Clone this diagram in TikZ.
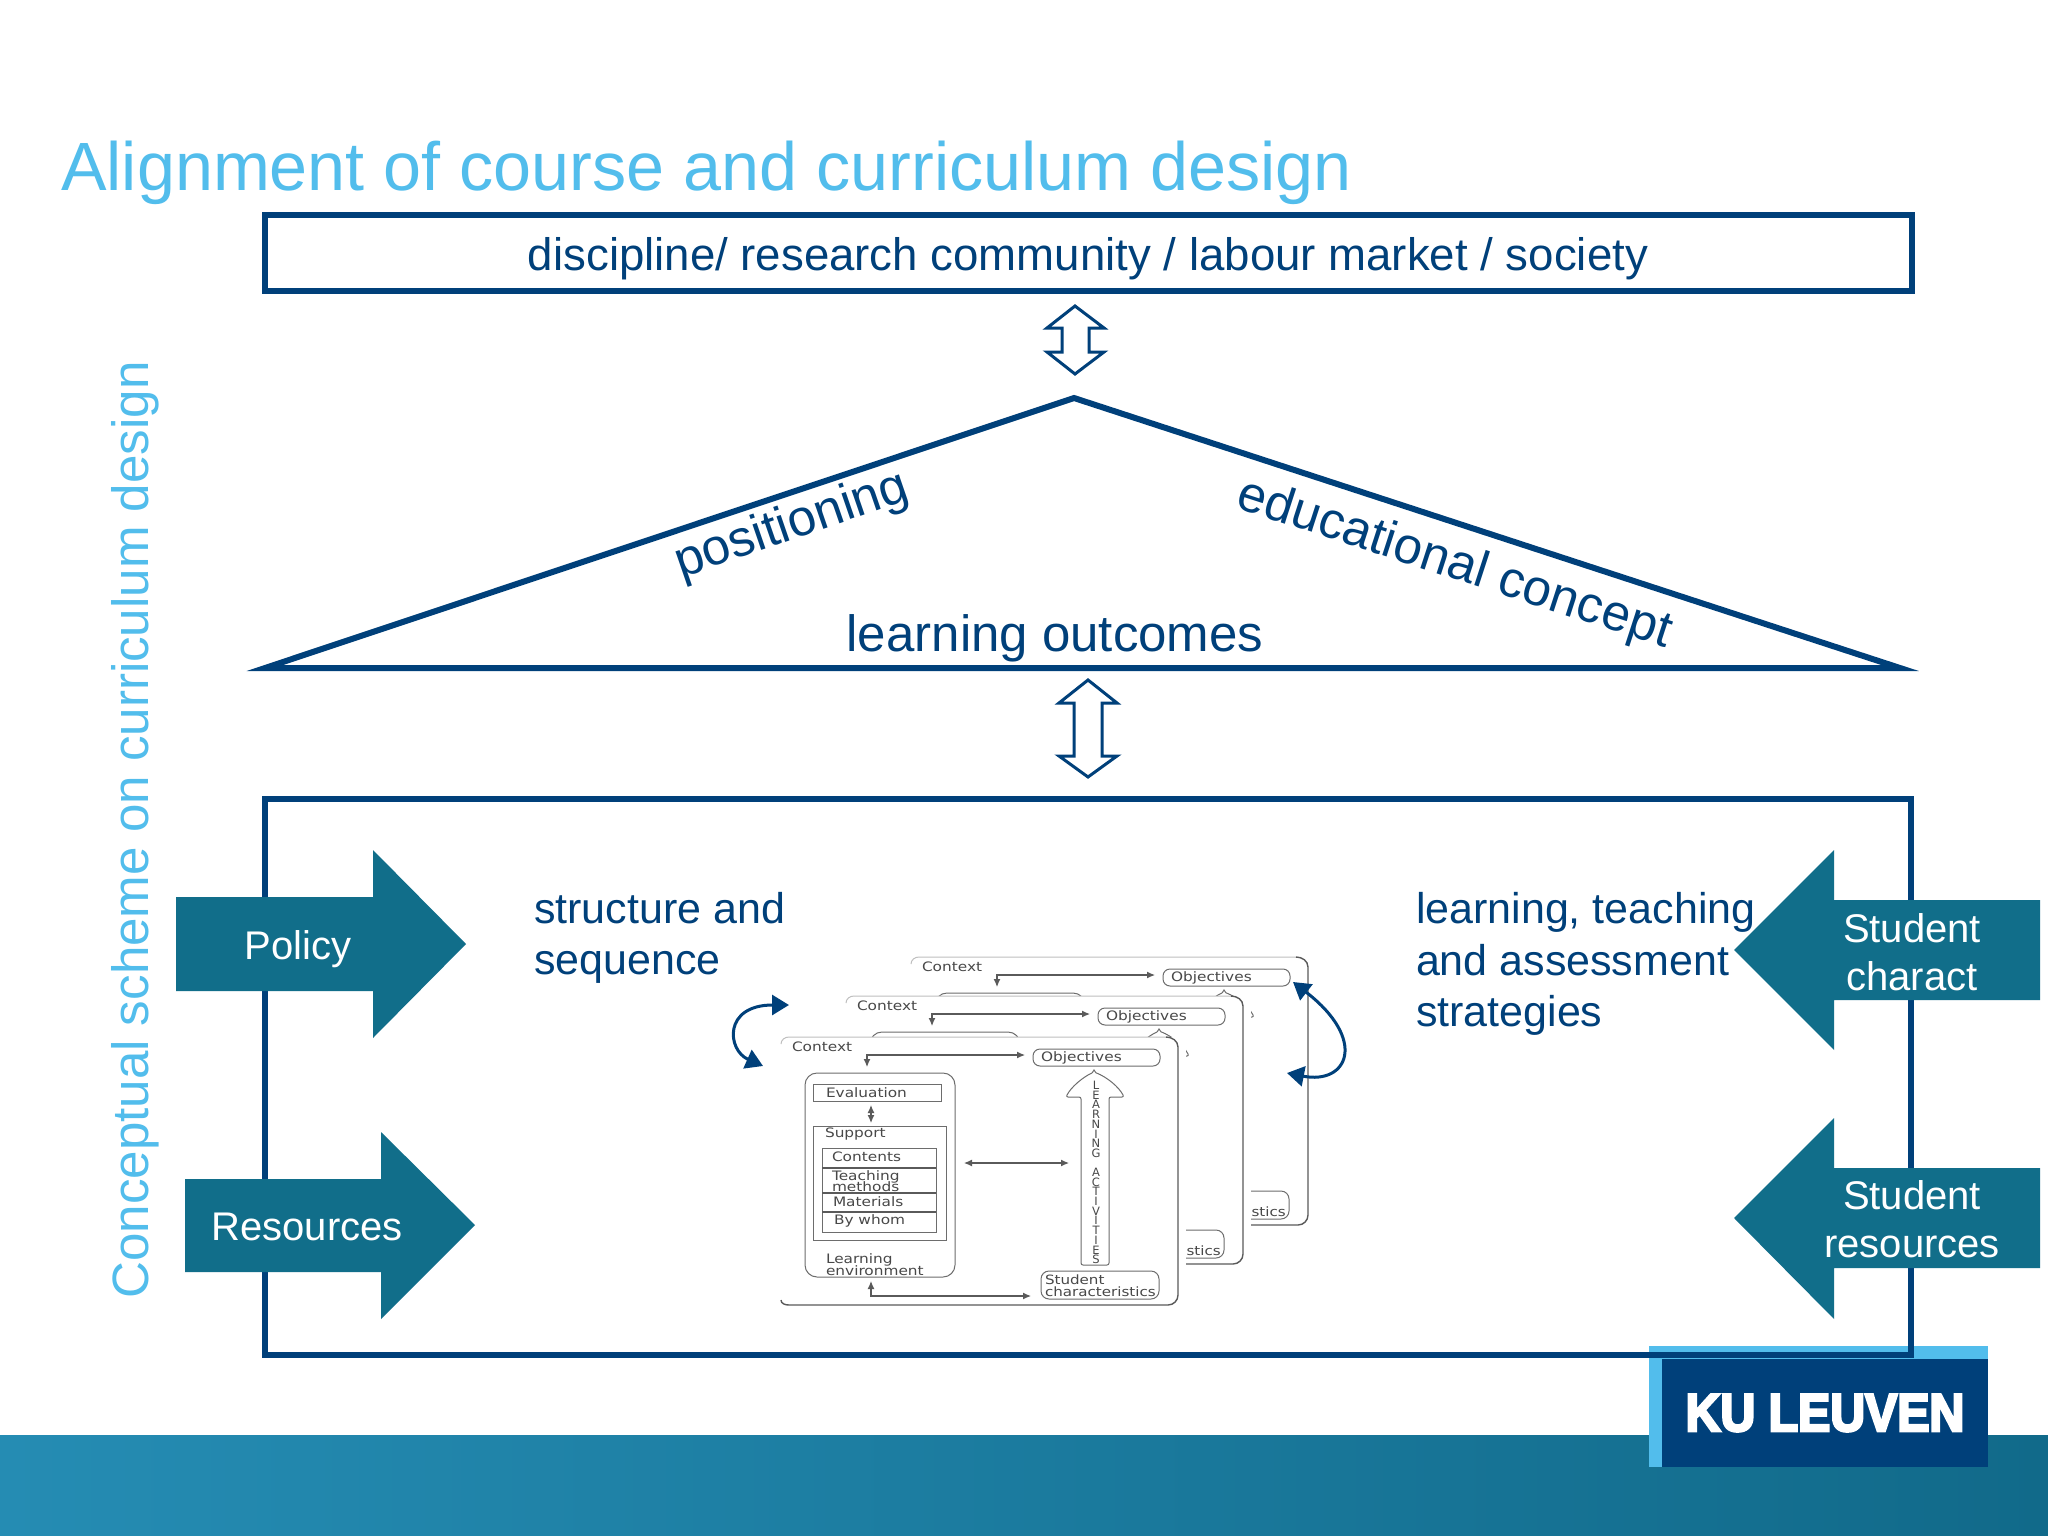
\documentclass[tikz,border=0pt]{standalone}
\usepackage{fontspec}
\setmainfont{Liberation Sans}
\newfontfamily\cardfont{DejaVu Sans}
\newfontfamily\logofont{Liberation Sans Bold}[FakeBold=5]
\newcommand{\tightlines}{\lineskiplimit=-50pt\relax}
\usetikzlibrary{arrows.meta}
\definecolor{kulight}{HTML}{52BDEC}
\definecolor{kudark}{HTML}{00407A}
\definecolor{kuteal}{HTML}{116E8A}
\definecolor{bandleft}{HTML}{258CB3}
\definecolor{bandright}{HTML}{116A8A}
\definecolor{cardink}{HTML}{484848}
\tikzset{
  frame/.style={draw=kudark,line width=6pt,miter limit=10},
  body/.style={text=kudark,font=\fontsize{43}{51.5}\selectfont,inner sep=0pt,outer sep=0pt},
  roof/.style={body,font=\fontsize{51}{51}\selectfont},
  updown/.style={draw=kudark,line width=3pt,fill=white},
  flow/.style={fill=kuteal},
  flowtext/.style={text=white,font=\fontsize{40}{48}\selectfont,align=center,inner sep=0pt},
  loop/.style={draw=kudark,line width=3pt,{Triangle[length=17pt,width=20pt]}-{Triangle[length=17pt,width=20pt]}},
  ctext/.style={text=cardink,font=\cardfont\fontsize{13}{13}\selectfont\tightlines,xscale=1.18,inner sep=0pt,outer sep=0pt,anchor=west,align=left},
  cbox/.style={draw=cardink!80,line width=1pt,inner sep=0pt,outer sep=0pt,anchor=north west},
  cline/.style={draw=cardink!90,line width=1.2pt},
  ctip/.style={cline,{Latex[length=8pt,width=7pt]}-{Latex[length=8pt,width=7pt]}},
  card/.pic={
    \fill[white] (0,0) rectangle (405,268);
    % outline, top edge fades out
    \draw[cardink!35,line width=1pt] (0,7) to[out=90,in=180] (8,0) -- (385,0);
    \draw[cardink!90,line width=1.4pt] (385,0) to[out=0,in=90] (397,10) -- (397,258) to[out=270,in=0] (387,268) -- (8,268) to[out=180,in=270] (0,263);
    % left column
    \node[cbox,rounded corners=12pt,minimum width=150pt,minimum height=204pt] (-env) at (24,36) {};
    \node[cbox,minimum width=128pt,minimum height=17pt] (-eval) at (32,47) {};
    \node[cbox,minimum width=133pt,minimum height=114pt] (-supp) at (32,89) {};
    \node[cbox,minimum width=114pt,minimum height=84pt] (-stack) at (41,111) {};
    \draw[cline] (41,131) -- (155,131) (41,156) -- (155,156) (41,175) -- (155,175);
    \node[ctext] (-tctx) at (11,10) {Context};
    \node[ctext] (-teval) at (45,56) {Evaluation};
    \node[ctext] (-tsupp) at (44,97) {Support};
    \node[ctext] (-tcont) at (51,120) {Contents};
    \node[ctext,font=\cardfont\fontsize{13}{10.5}\selectfont\tightlines] (-tteach) at (51,144) {Teaching\\methods};
    \node[ctext] (-tmat) at (52,165) {Materials};
    \node[ctext] (-tby) at (53,184) {By whom};
    \node[ctext,font=\cardfont\fontsize{13}{12}\selectfont\tightlines] (-tenv) at (45,228) {Learning\\environment};
    % right column
    \node[cbox,rounded corners=7pt,minimum width=127pt,minimum height=17pt] (-obj) at (252,12) {};
    \node[ctext] (-tobj) at (260,21) {Objectives};
    \node[cbox,rounded corners=8pt,minimum width=118pt,minimum height=28pt] (-stud) at (260,234) {};
    \node[ctext,font=\cardfont\fontsize{12.8}{12}\selectfont\tightlines] (-tstud) at (264,249) {Student\\characteristics};
    \draw[cardink!80,line width=1pt,fill=white,rounded corners=2pt] (313,35) .. controls (326,40) and (338,50) .. (343,60) -- (328,60) -- (328,228) -- (300,228) -- (300,60) -- (285,60) .. controls (290,50) and (302,40) .. (313,35) -- cycle;
    \node[text=cardink,font=\cardfont\fontsize{11.5}{9.7}\selectfont\tightlines,align=center,inner sep=0pt,anchor=center] (-la) at (315,135.5) {L\\E\\A\\R\\N\\I\\N\\G\\[9.3pt]A\\C\\T\\I\\V\\I\\T\\I\\E\\S};
    % connectors
    \coordinate (-a1) at (86,30);
    \coordinate (-a2) at (244,18);
    \coordinate (-a3) at (90,244);
    \coordinate (-a4) at (250,259);
    \coordinate (-a5) at (183,126);
    \coordinate (-a6) at (288,126);
    \coordinate (-a7) at (90,68);
    \coordinate (-a8) at (90,86);
    \draw[ctip] (-a1) |- (-a2);
    \draw[ctip] (-a3) |- (-a4);
    \draw[ctip] (-a5) -- (-a6);
    \draw[ctip] (-a7) -- (-a8);
  }
}
\begin{document}
\begin{tikzpicture}[x=1pt,y=-1pt]
\useasboundingbox (0,0) rectangle (2048,1536);
\fill[white] (0,0) rectangle (2048,1536);

% footer band and logo
\shade[left color=bandleft,right color=bandright] (0,1435) rectangle (2048,1536);
\fill[kulight] (1649,1346) rectangle (1988,1467);
\fill[kudark] (1662,1359) rectangle (1988,1467);
\node[text=white,font=\logofont\fontsize{53}{53}\selectfont,xscale=0.91,inner sep=0pt,anchor=base] (logo) at (1825,1431) {KU LEUVEN};

% title and side label
\node[text=kulight,font=\fontsize{68.3}{68.3}\selectfont,inner sep=0pt,anchor=base west] (title) at (61,190) {Alignment of course and curriculum design};
\node[text=kulight,font=\fontsize{51.1}{51.1}\selectfont,inner sep=0pt,anchor=base,rotate=90] (side) at (148,830) {Conceptual scheme on curriculum design};

% three levels
\node[frame,outer sep=0pt,minimum width=1647pt,minimum height=76pt,inner sep=0pt,anchor=north west] (top) at (265,215) {};
\node[body,font=\fontsize{45.6}{51}\selectfont,anchor=center] (toptext) at (1088,259) {discipline/ research community / labour market / society};
\draw[frame] (265,668) -- (1074,398) -- (1900,668) -- cycle;
\node[roof,anchor=center,rotate=19] (pos) at (792,526) {positioning};
\node[roof,anchor=center,rotate=-18] (edu) at (1454,565) {educational concept};
\node[roof,anchor=center] (lo) at (1055,638) {learning outcomes};
\draw[frame] (265,799) rectangle (1911,1355);

% double arrows between levels
\draw[updown] (1075,306) -- (1104,328) -- (1089,328) -- (1089,352) -- (1104,352) -- (1075,374) -- (1047,352) -- (1062,352) -- (1062,328) -- (1047,328) -- cycle;
\draw[updown] (1088,680) -- (1117,703) -- (1102,703) -- (1102,756) -- (1117,756) -- (1088,777) -- (1059,756) -- (1074,756) -- (1074,703) -- (1059,703) -- cycle;

% inputs
\fill[flow] (176,897) -- (373,897) -- (373,850) -- (466,944) -- (373,1038) -- (373,991) -- (176,991) -- cycle;
\fill[flow] (185,1179) -- (381,1179) -- (381,1132) -- (475,1225) -- (381,1319) -- (381,1272) -- (185,1272) -- cycle;
\fill[flow] (2040,900) -- (1834,900) -- (1834,850) -- (1734,950) -- (1834,1050) -- (1834,1000) -- (2040,1000) -- cycle;
\fill[flow] (2040,1168) -- (1834,1168) -- (1834,1118) -- (1734,1218) -- (1834,1319) -- (1834,1268) -- (2040,1268) -- cycle;
\node[flowtext] (policy) at (298,949) {Policy};
\node[flowtext] (res) at (307,1227) {Resources};
\node[flowtext] (scharact) at (1912,952) {Student\\charact};
\node[flowtext] (sres) at (1912,1219) {Student\\resources};

% body labels
\node[body,anchor=west,align=left] (struct) at (534,938) {structure and\\sequence};
\node[body,anchor=west,align=left] (ltas) at (1416,964) {learning, teaching\\and assessment\\strategies};

% stacked cards, back to front
\pic (back) at (911,957) {card};
\pic (mid) at (846,996) {card};
\pic (front) at (781,1037) {card};

% loops
\coordinate (l1) at (763,1066);
\coordinate (l2) at (789,1005);
\coordinate (r1) at (1293,982);
\coordinate (r2) at (1287,1073);
\draw[loop] (l1) .. controls (727,1050) and (723,1005) .. (l2);
\draw[loop] (r1) .. controls (1368,1040) and (1348,1085) .. (r2);
\end{tikzpicture}
\end{document}
